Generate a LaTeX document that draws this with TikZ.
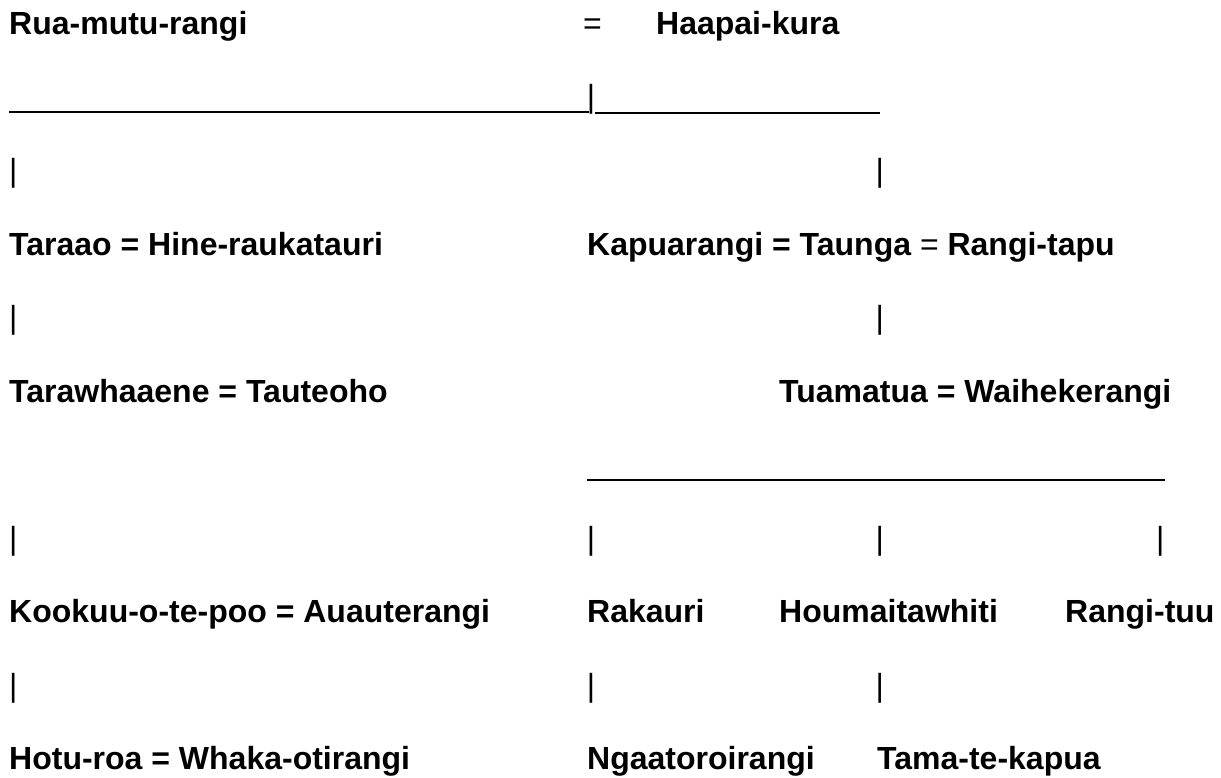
\documentclass[tikz,border=0pt]{standalone}
\usepackage{fontspec}
\setmainfont{Liberation Sans}
\begin{document}
\begin{tikzpicture}[x=1pt,y=-1pt,
  person/.style={anchor=base west,inner sep=0pt,font=\fontsize{32}{38}\selectfont\bfseries},
  bar/.style={anchor=base west,inner sep=0pt,font=\fontsize{32}{38}\selectfont},
  thickrule/.style={line width=2.6pt},
  thinrule/.style={line width=1.6pt}]
\useasboundingbox (0,0) rectangle (1221,778);
% row 0
\node[person] (rua) at (9,34.5) {Rua-mutu-rangi};
\node[bar] (eqA) at (583,34.5) {=};
\node[person] (haa) at (656,34.5) {Haapai-kura};
% row 1
\node[bar] (pA) at (586.6,108) {|};
\coordinate (lAa) at (9,112);
\coordinate (lAb) at (589.3,112);
\coordinate (lBa) at (594.7,112.8);
\coordinate (lBb) at (880,112.8);
\draw[thickrule] (lAa) -- (lAb);
\draw[thinrule] (lBa) -- (lBb);
% row 2
\node[bar] (pB1) at (9,181.5) {|};
\node[bar] (pB2) at (875.5,181.5) {|};
% row 3
\node[person] (tar) at (9,255) {Taraao = Hine-raukatauri};
\node[person] (kap) at (587,255) {Kapuarangi = Taunga {\mdseries =} Rangi-tapu};
% row 4
\node[bar] (pC1) at (9,328.5) {|};
\node[bar] (pC2) at (875.5,328.5) {|};
% row 5
\node[person] (taw) at (9,402) {Tarawhaaene = Tauteoho};
\node[person] (tua) at (779,402) {Tuamatua = Waihekerangi};
% row 6
\coordinate (lCa) at (587,480);
\coordinate (lCb) at (1165,480);
\draw[thickrule] (lCa) -- (lCb);
% row 7
\node[bar] (pD1) at (9,549) {|};
\node[bar] (pD2) at (586.6,549) {|};
\node[bar] (pD3) at (875.5,549) {|};
\node[bar] (pD4) at (1156,549) {|};
% row 8
\node[person] (koo) at (9,622.5) {Kookuu-o-te-poo = Auauterangi};
\node[person] (rak) at (587,622.5) {Rakauri};
\node[person] (hou) at (779,622.5) {Houmaitawhiti};
\node[person] (rtu) at (1065,622.5) {Rangi-tuu};
% row 9
\node[bar] (pE1) at (9,696) {|};
\node[bar] (pE2) at (586.6,696) {|};
\node[bar] (pE3) at (875.5,696) {|};
% row 10
\node[person] (hot) at (9,769.5) {Hotu-roa = Whaka-otirangi};
\node[person] (nga) at (587,769.5) {Ngaatoroirangi};
\node[person] (tam) at (877,769.5) {Tama-te-kapua};
\end{tikzpicture}
\end{document}
